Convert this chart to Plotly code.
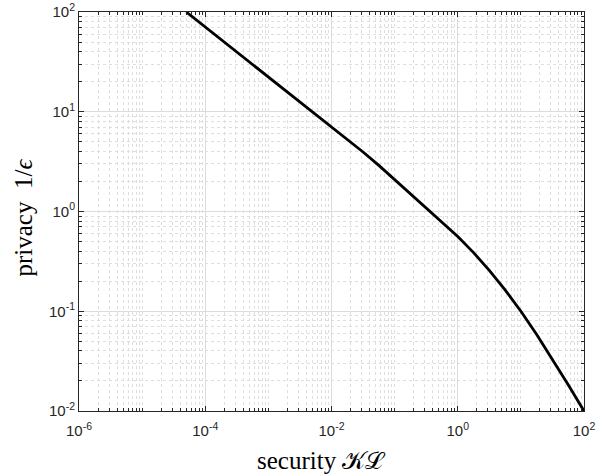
import plotly.graph_objects as go

# Data
security_kl = [5.01e-5, 1e-4, 3.16e-4, 1e-3, 3.16e-3, 1e-2, 1.78e-2, 3.16e-2,
               5.62e-2, 1e-1, 1.78e-1, 3.16e-1, 5.62e-1, 1.0, 1.78, 3.16,
               5.62, 10, 17.8, 31.6, 56.2, 100]
privacy_inv_eps = [100, 70.8, 39.8, 22.4, 12.6, 7.08, 5.31, 3.95,
                   2.90, 2.09, 1.505, 1.084, 0.781, 0.562, 0.387, 0.257,
                   0.164, 0.1, 0.0586, 0.0331, 0.0183, 0.01]

x_major = [1e-6, 1e-4, 1e-2, 1e0, 1e2]
x_major_text = ["10<sup>-6</sup>", "10<sup>-4</sup>", "10<sup>-2</sup>",
                "10<sup>0</sup>", "10<sup>2</sup>"]
y_major = [1e-2, 1e-1, 1e0, 1e1, 1e2]
y_major_text = ["10<sup>-2</sup>", "10<sup>-1</sup>", "10<sup>0</sup>",
                "10<sup>1</sup>", "10<sup>2</sup>"]

x_minor = [k * 10.0 ** d for d in range(-6, 2) for k in range(1, 10)
           if not (k == 1 and d % 2 == 0)]
y_minor = [k * 10.0 ** d for d in range(-2, 2) for k in range(2, 10)]

x_title = "security 𝒦ℒ"
y_title = "privacy  1/<i>ϵ</i>"

fig = go.Figure()
fig.add_trace(go.Scatter(
    x=security_kl, y=privacy_inv_eps, mode="lines",
    line=dict(color="black", width=2.8),
    showlegend=False, hoverinfo="skip"))

axis_common = dict(
    type="log", showline=True, linecolor="#262626", linewidth=1,
    mirror="ticks", ticks="inside", ticklen=5, tickcolor="#262626",
    showgrid=True, gridcolor="#dcdcdc", gridwidth=1, zeroline=False,
    automargin=False,
    tickfont=dict(family="Liberation Sans, Arial, sans-serif", size=15, color="#262626"),
)

title_font = dict(family="Liberation Serif, Times New Roman, serif", size=25, color="black")

fig.update_layout(
    width=611, height=476,
    margin=dict(l=79, r=27, t=12, b=65, autoexpand=False),
    paper_bgcolor="white", plot_bgcolor="white",
    xaxis=dict(
        **axis_common,
        ticklabelstandoff=6,
        range=[-6, 2], tickmode="array", tickvals=x_major, ticktext=x_major_text,
        minor=dict(tickmode="array", tickvals=x_minor, ticks="inside", ticklen=3,
                   tickcolor="#262626", showgrid=True, griddash="dot",
                   gridcolor="#dedede", gridwidth=1),
    ),
    yaxis=dict(
        **axis_common,
        range=[-2, 2], tickmode="array", tickvals=y_major, ticktext=y_major_text,
        minor=dict(tickmode="array", tickvals=y_minor, ticks="inside", ticklen=3,
                   tickcolor="#262626", showgrid=True, griddash="dot",
                   gridcolor="#dedede", gridwidth=1),
    ),
    annotations=[
        dict(text=x_title, xref="paper", yref="paper", x=0.481, y=-0.123,
             xanchor="center", yanchor="middle", showarrow=False, font=title_font),
        dict(text=y_title, xref="paper", yref="paper", x=-0.11, y=0.486,
             xanchor="center", yanchor="middle", textangle=-90,
             showarrow=False, font=title_font),
    ],
)

fig.write_html("out.html")
